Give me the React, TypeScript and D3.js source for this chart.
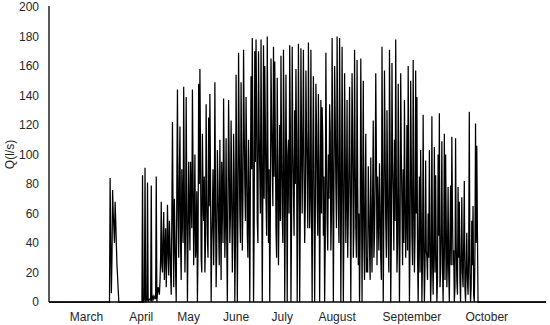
import React, { useEffect } from "react";
import { scaleLinear, line } from "d3";

// flow readings in l/s; each period has its main readings and the readings taken in between
const idleMarch = [
  0, 0, 0, 0, 0, 0, 0, 0, 0, 0, 0, 0, 0, 0, 0, 0, 0, 0, 0, 0, 0, 0, 0, 0,
  0, 0, 0, 0, 0, 0, 0, 0, 0, 0, 0, 0, 0, 0, 0, 0, 0, 0, 0, 0, 0, 0, 0, 0, 0,
];
const marchFlow = [84, 6, 76, 51, 68, 39, 17];
const marchBetween = [40, 30, 60, 40, 55, 25, 8];
const idleApril = [0, 0, 0, 0, 0, 0, 0, 0, 0, 0, 0, 0, 0, 0, 0, 0, 0, 0, 0];
const aprilFlow = [
  86, 0, 91, 2, 81, 1, 2, 79, 3, 2, 4, 85, 6, 8, 14, 68, 20, 61, 35, 10, 66,
  18, 40, 5,
];
const aprilBetween = [
  0, 2, 0, 1, 0, 2, 1, 0, 4, 3, 2, 0, 10, 5, 30, 25, 45, 15, 50, 30, 35, 55,
  20, 60,
];
const mayFlow = [
  122, 10, 45, 0, 144, 30, 119, 15, 60, 146, 20, 139, 0, 95, 35, 70, 144, 25,
  100, 40, 0, 148, 158, 30, 114, 55, 20, 134, 45, 125, 141, 0, 60, 25, 149, 10,
  103, 50, 110, 15, 75, 138, 30, 111, 0, 137, 40, 123, 20, 114, 0, 154,
];
const mayBetween = [
  55, 70, 20, 80, 60, 85, 40, 90, 40, 75, 50, 65, 45, 60, 95, 50, 90, 60, 30,
  75, 35, 80, 100, 20, 75, 85, 40, 70, 30, 65, 85, 40, 90, 55, 70, 35, 80, 25,
  60, 95, 40, 85, 55, 45, 70, 95, 60, 75, 50, 85, 40, 90,
];
const juneJulyFlow = [
  0, 169, 60, 149, 35, 171, 80, 139, 45, 110, 0, 153, 179, 0, 170, 178, 55,
  170, 90, 178, 0, 174, 160, 70, 180, 40, 0, 165, 95, 173, 163, 50, 152, 25,
  120, 167, 60, 171, 0, 154, 0, 110, 174, 0, 173, 75, 130, 158, 0, 175, 0, 172,
];
const juneJulyBetween = [
  60, 110, 40, 95, 70, 120, 55, 100, 30, 70, 85, 90, 110, 50, 95, 130, 40, 115,
  60, 100, 80, 70, 120, 45, 105, 90, 60, 125, 65, 85, 110, 30, 95, 70, 55, 100,
  40, 115, 65, 85, 100, 60, 120, 55, 105, 45, 80, 110, 70, 95, 60, 110,
];
const augustFlow = [
  60, 171, 40, 157, 85, 176, 50, 171, 0, 153, 0, 148, 70, 141, 0, 137, 132, 45,
  0, 169, 55, 100, 134, 35, 179, 0, 160, 80, 180, 65, 179, 0, 173, 0, 155, 40,
  137, 60, 146, 0, 155, 30, 171, 50, 164, 25, 0, 165, 0, 150, 15, 114,
];
const augustBetween = [
  110, 90, 65, 115, 50, 105, 75, 60, 100, 80, 55, 120, 45, 95, 70, 60, 110, 85,
  40, 100, 35, 70, 115, 60, 95, 80, 125, 50, 110, 40, 100, 70, 90, 55, 105, 75,
  30, 95, 65, 85, 110, 50, 95, 30, 80, 60, 45, 90, 70, 40, 75, 20,
];
const septemberFlow = [
  30, 92, 35, 98, 20, 123, 45, 155, 25, 60, 94, 30, 173, 0, 157, 55, 130, 40,
  171, 0, 162, 70, 110, 178, 20, 148, 0, 155, 65, 90, 137, 30, 120, 160, 0,
  150, 45, 164, 20, 157, 139, 0, 85, 103, 0, 127, 0, 96, 30, 60, 103, 0,
];
const septemberBetween = [
  20, 65, 15, 50, 75, 30, 80, 100, 85, 35, 65, 15, 90, 60, 105, 30, 80, 20,
  110, 45, 95, 35, 55, 85, 40, 70, 50, 100, 25, 40, 70, 55, 35, 80, 40, 95, 25,
  75, 45, 60, 30, 45, 20, 55, 30, 40, 25, 35, 15, 30, 45, 20,
];
const octoberFlow = [
  126, 5, 105, 86, 0, 100, 128, 20, 109, 0, 114, 100, 10, 78, 0, 79, 112, 25,
  0, 111, 15, 78, 68, 0, 71, 10, 82, 0, 47, 5, 129, 0, 55, 65, 0, 121, 106,
];
const octoberBetween = [
  30, 40, 20, 35, 15, 45, 10, 50, 25, 40, 15, 55, 30, 20, 45, 25, 60, 35, 10,
  40, 5, 30, 15, 35, 20, 40, 10, 25, 15, 30, 20, 10, 25, 5, 30, 40, 50,
];
const idleAfter = [
  0, 0, 0, 0, 0, 0, 0, 0, 0, 0, 0, 0, 0, 0, 0, 0, 0, 0, 0, 0, 0, 0, 0, 0, 0,
  0, 0, 0, 0, 0, 0, 0, 0, 0, 0, 0, 0, 0, 0, 0, 0, 0, 0, 0, 0, 0, 0, 0, 0, 0,
  0, 0, 0, 0, 0,
];

const months = ["March", "April", "May", "June", "July", "August", "September", "October"];
const monthPos = [60, 148, 224, 300, 374, 462, 582, 702];
const yTicks = [0, 20, 40, 60, 80, 100, 120, 140, 160, 180, 200];

function weave(main: number[], between: number[]) {
  const out: number[] = [];
  main.forEach((v, i) => out.push(v, between[i]));
  return out;
}

const flow = [
  ...weave(idleMarch, idleMarch),
  ...weave(marchFlow, marchBetween),
  ...weave(idleApril, idleApril),
  ...weave(aprilFlow, aprilBetween),
  ...weave(mayFlow, mayBetween),
  ...weave(juneJulyFlow, juneJulyBetween),
  ...weave(augustFlow, augustBetween),
  ...weave(septemberFlow, septemberBetween),
  ...weave(octoberFlow, octoberBetween),
  ...weave(idleAfter, idleAfter),
];

const W = 550;
const H = 325;
const left = 49;
const right = 546;
const top = 7;
const bottom = 302;

export default function App() {
  useEffect(() => {
    document.body.style.margin = "0";
  }, []);

  const x = scaleLinear().domain([0, flow.length - 1]).range([left, right]);
  const y = scaleLinear().domain([0, 200]).range([bottom, top]);
  const path = line<number>()
    .x((d, i) => x(i))
    .y((d) => y(d))(flow);

  const font = "'Liberation Sans', Arial, sans-serif";

  return (
    <svg width={W} height={H} style={{ display: "block", background: "#fff" }}>
      <path d={path || ""} fill="none" stroke="#000" strokeWidth={1.25} />
      <line x1={left} x2={left} y1={top - 1} y2={bottom} stroke="#000" strokeWidth={1.3} />
      <line x1={left} x2={right} y1={bottom} y2={bottom} stroke="#000" strokeWidth={1.3} />
      {yTicks.map((t) => (
        <text key={t} x={39} y={y(t)} dy="0.35em" textAnchor="end" fontFamily={font} fontSize={12} fill="#262626">
          {t}
        </text>
      ))}
      {months.map((m, i) => (
        <text key={m} x={x(monthPos[i])} y={321} textAnchor="middle" fontFamily={font} fontSize={12} fill="#262626">
          {m}
        </text>
      ))}
      <text
        transform={`translate(14,${(top + bottom) / 2}) rotate(-90)`}
        textAnchor="middle"
        fontFamily={font}
        fontSize={12}
        fill="#262626"
      >
        Q(l/s)
      </text>
    </svg>
  );
}
